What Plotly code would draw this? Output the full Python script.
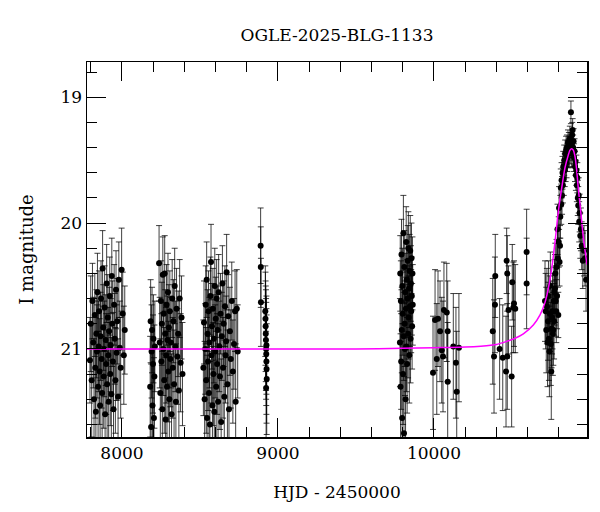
import plotly.graph_objects as go

# ---- data (HJD - 2450000, I magnitude, error) ----
s1_hjd = [7795, 7800, 7806, 7811, 7816, 7821, 7826, 7829, 7833, 7836, 7840, 7843, 7847, 7850, 7853, 7857, 7860, 7863, 7866, 7870,
          7873, 7876, 7880, 7883, 7886, 7889, 7892, 7896, 7899, 7902, 7905, 7909, 7912, 7915, 7918, 7922, 7925, 7928, 7932, 7935,
          7938, 7942, 7946, 7950, 7954, 7958, 7962, 7966, 7970, 7975, 7980, 7986, 7992, 7998, 8005, 8012, 8018]
s1_mag = [21.09, 20.80, 21.25, 20.62, 20.95, 21.40, 20.73, 21.15, 21.50, 20.88, 21.02, 20.55, 21.30, 20.98, 20.70, 21.18, 21.45, 20.90, 20.60, 21.08,
          21.35, 20.36, 20.83, 21.22, 21.00, 20.67, 21.52, 20.93, 21.12, 20.48, 21.28, 20.75, 21.05, 21.42, 20.86, 20.58, 21.20, 20.97, 21.36, 20.42,
          20.80, 21.10, 21.48, 20.65, 20.92, 21.25, 20.53, 21.03, 20.78, 21.38, 20.45, 20.99, 21.15, 20.37, 20.72, 21.05, 20.85]
s1_err = [0.34, 0.38, 0.45, 0.30, 0.36, 0.48, 0.33, 0.40, 0.50, 0.35, 0.37, 0.31, 0.44, 0.36, 0.32, 0.42, 0.47, 0.35, 0.30, 0.39,
          0.45, 0.30, 0.34, 0.41, 0.38, 0.33, 0.50, 0.36, 0.40, 0.31, 0.43, 0.34, 0.38, 0.47, 0.35, 0.31, 0.41, 0.37, 0.45, 0.30,
          0.34, 0.39, 0.48, 0.32, 0.36, 0.42, 0.31, 0.38, 0.34, 0.46, 0.30, 0.37, 0.40, 0.33, 0.33, 0.39, 0.35]

s2_hjd = [8181, 8184, 8187, 8190, 8193, 8196, 8199, 8202, 8205, 8208, 8211, 8238, 8242, 8246, 8250, 8253, 8256, 8259, 8262, 8265,
          8268, 8271, 8274, 8277, 8280, 8283, 8286, 8289, 8292, 8295, 8298, 8301, 8304, 8307, 8310, 8314, 8318, 8322, 8326, 8330,
          8334, 8338, 8342, 8346, 8350, 8355, 8360, 8365, 8370, 8376, 8382, 8388]
s2_mag = [21.30, 20.78, 21.62, 21.02, 20.85, 21.45, 21.12, 20.92, 21.55, 21.22, 20.98, 20.32, 20.95, 21.35, 20.62, 21.10, 20.80, 21.48, 20.41, 21.00,
          20.72, 21.25, 20.40, 20.88, 21.56, 21.05, 20.65, 21.30, 20.93, 20.55, 21.18, 20.83, 21.40, 20.70, 21.08, 20.95, 21.52, 20.60, 21.15, 20.78,
          21.28, 20.50, 20.98, 21.42, 20.68, 21.06, 20.88, 21.33, 20.60, 21.11, 20.75, 21.20]
s2_err = [0.40, 0.33, 0.50, 0.37, 0.34, 0.45, 0.39, 0.35, 0.48, 0.41, 0.36, 0.30, 0.36, 0.43, 0.32, 0.38, 0.33, 0.46, 0.30, 0.37,
          0.32, 0.42, 0.30, 0.35, 0.49, 0.38, 0.32, 0.44, 0.35, 0.31, 0.40, 0.34, 0.45, 0.32, 0.38, 0.36, 0.48, 0.31, 0.40, 0.33,
          0.43, 0.30, 0.36, 0.46, 0.32, 0.38, 0.34, 0.44, 0.31, 0.39, 0.33, 0.41]

s3_hjd = [8522, 8526, 8530, 8534, 8537, 8540, 8543, 8546, 8549, 8552, 8555, 8558, 8561, 8564, 8567, 8571, 8574, 8577, 8580, 8583,
          8586, 8589, 8592, 8595, 8598, 8601, 8604, 8607, 8610, 8613, 8616, 8620, 8624, 8628, 8632, 8636, 8640, 8644, 8648, 8652,
          8656, 8660, 8664, 8668, 8671, 8676, 8681, 8686, 8692, 8698, 8704, 8711, 8718, 8725, 8729, 8736, 8742]
s3_mag = [21.15, 20.79, 21.40, 21.00, 20.65, 21.25, 20.45, 21.55, 20.88, 21.10, 20.70, 21.35, 20.95, 21.60, 20.58, 20.31, 21.05, 20.82, 21.45, 20.68,
          21.20, 20.92, 21.50, 20.50, 21.02, 20.76, 21.30, 20.60, 21.12, 20.85, 21.42, 20.55, 20.98, 21.22, 20.72, 21.58, 20.90, 20.48, 21.15, 20.80,
          21.38, 20.66, 21.05, 20.94, 20.39, 21.28, 20.74, 21.48, 20.86, 21.08, 20.62, 21.18, 20.96, 20.70, 21.42, 20.68, 21.02]
s3_err = [0.38, 0.33, 0.46, 0.36, 0.31, 0.42, 0.30, 0.50, 0.35, 0.39, 0.32, 0.45, 0.36, 0.50, 0.31, 0.30, 0.38, 0.34, 0.47, 0.32,
          0.41, 0.35, 0.49, 0.30, 0.37, 0.33, 0.44, 0.31, 0.40, 0.35, 0.46, 0.30, 0.36, 0.42, 0.32, 0.50, 0.35, 0.30, 0.40, 0.34,
          0.45, 0.32, 0.38, 0.36, 0.30, 0.43, 0.33, 0.48, 0.35, 0.39, 0.31, 0.41, 0.36, 0.32, 0.46, 0.31, 0.37]

s4_hjd = [8889, 8890, 8891, 8919, 8920, 8921, 8922, 8923, 8924, 8925, 8926, 8927, 8928, 8924, 8926]
s4_mag = [20.18, 20.35, 20.63, 20.70, 20.76, 20.82, 20.88, 20.93, 21.00, 21.04, 21.10, 21.16, 21.24, 21.31, 20.97]
s4_err = [0.30, 0.32, 0.35, 0.36, 0.37, 0.36, 0.38, 0.40, 0.40, 0.41, 0.42, 0.43, 0.44, 0.45, 0.39]

s5_hjd = [9782, 9784, 9786, 9788, 9790, 9792, 9794, 9796, 9798, 9800, 9802, 9804, 9806, 9808, 9810, 9812, 9814, 9816, 9818, 9820,
          9822, 9824, 9826, 9828, 9830, 9832, 9834, 9836, 9838, 9840, 9842, 9844, 9846, 9848, 9850, 9852, 9854, 9856, 9858, 9860,
          9862, 9864]
s5_mag = [20.95, 20.40, 21.30, 20.62, 21.10, 20.25, 20.85, 21.55, 20.50, 20.72, 21.20, 20.08, 20.90, 21.67, 20.35, 20.80, 21.00, 20.55, 21.40, 20.68,
          20.15, 20.98, 20.45, 21.12, 20.60, 20.30, 20.88, 20.20, 20.75, 20.52, 21.05, 20.38, 20.66, 20.22, 20.92, 20.48, 20.70, 20.28, 20.58, 20.82,
          20.40, 20.65]
s5_err = [0.35, 0.30, 0.42, 0.32, 0.38, 0.28, 0.34, 0.45, 0.30, 0.33, 0.40, 0.30, 0.35, 0.45, 0.29, 0.34, 0.37, 0.31, 0.43, 0.32,
          0.28, 0.36, 0.30, 0.39, 0.31, 0.28, 0.35, 0.29, 0.33, 0.31, 0.38, 0.29, 0.32, 0.28, 0.35, 0.30, 0.33, 0.28, 0.31, 0.34,
          0.29, 0.32]

s6_hjd = [9994, 10007, 10018, 10026, 10039, 10050, 10058, 10064, 10082, 10088, 10088, 10124, 10141, 10146, 10160]
s6_mag = [21.19, 20.77, 21.08, 20.76, 20.86, 21.01, 21.06, 20.69, 20.71, 20.86, 21.26, 20.98, 21.11, 21.34, 20.99]
s6_err = [0.45, 0.40, 0.44, 0.38, 0.40, 0.42, 0.44, 0.38, 0.39, 0.40, 0.47, 0.42, 0.44, 0.48, 0.43]

s7_hjd = [10377, 10385, 10391, 10393, 10421, 10441, 10462, 10466, 10470, 10470, 10478, 10498, 10502, 10509, 10513, 10521, 10594, 10594]
s7_mag = [20.86, 21.06, 20.65, 20.42, 21.00, 21.07, 21.18, 20.30, 20.40, 21.06, 20.69, 21.22, 20.47, 20.67, 20.64, 20.68, 20.23, 20.48]
s7_err = [0.42, 0.45, 0.38, 0.33, 0.40, 0.42, 0.44, 0.26, 0.30, 0.42, 0.35, 0.40, 0.30, 0.36, 0.34, 0.35, 0.34, 0.36]

s8_hjd = [10712, 10716, 10720, 10724, 10728, 10731, 10734, 10737, 10740, 10743, 10746, 10749, 10752, 10754, 10757, 10760, 10762, 10765, 10768, 10770,
          10773, 10776, 10778, 10781, 10784, 10786, 10789, 10792, 10794, 10797, 10800, 10802, 10805, 10808, 10810, 10813, 10816, 10818, 10821, 10824,
          10826, 10829, 10832, 10835, 10838, 10841, 10844, 10847, 10850, 10853, 10856, 10859, 10862, 10865, 10868, 10871, 10874, 10878, 10880, 10883,
          10886, 10889, 10892, 10895, 10898, 10901, 10904, 10907, 10910, 10913, 10916, 10919, 10922, 10925, 10928, 10931, 10934, 10938, 10942, 10947,
          10954, 10962, 10968, 10975]
s8_mag = [20.62, 20.70, 20.85, 20.66, 20.95, 20.78, 20.58, 20.92, 21.02, 20.72, 20.50, 20.96, 21.18, 20.84, 20.75, 20.70, 20.88, 20.85, 20.62, 20.78,
          20.55, 20.52, 20.40, 20.62, 20.70, 20.35, 20.58, 20.05, 20.28, 20.73, 20.15, 19.88, 20.31, 20.18, 19.95, 19.72, 19.85, 19.66, 19.78, 19.60,
          19.70, 19.55, 19.65, 19.50, 19.58, 19.45, 19.55, 19.42, 19.52, 19.40, 19.48, 19.36, 19.45, 19.38, 19.44, 19.33, 19.42, 19.12, 19.38, 19.45,
          19.30, 19.26, 19.40, 19.35, 19.48, 19.43, 19.55, 19.51, 19.62, 19.58, 19.70, 19.64, 19.80, 19.86, 19.78, 19.99, 19.92, 20.10, 20.05, 20.18,
          20.30, 20.22, 20.28, 20.45]
s8_err = [0.32, 0.30, 0.34, 0.30, 0.35, 0.31, 0.28, 0.33, 0.36, 0.30, 0.27, 0.33, 0.38, 0.31, 0.29, 0.30, 0.33, 0.28, 0.27, 0.30,
          0.26, 0.27, 0.24, 0.28, 0.25, 0.22, 0.26, 0.20, 0.23, 0.18, 0.20, 0.17, 0.19, 0.16, 0.17, 0.15, 0.16, 0.14, 0.15, 0.13,
          0.14, 0.12, 0.13, 0.12, 0.13, 0.11, 0.12, 0.11, 0.12, 0.10, 0.11, 0.10, 0.11, 0.10, 0.11, 0.10, 0.11, 0.09, 0.10, 0.11,
          0.10, 0.09, 0.10, 0.10, 0.11, 0.10, 0.12, 0.11, 0.12, 0.12, 0.13, 0.12, 0.14, 0.15, 0.14, 0.16, 0.15, 0.18, 0.17, 0.19,
          0.22, 0.20, 0.22, 0.25]

# model curve (magenta)
model_hjd = [7776, 8500, 9000, 9500, 9800, 10000, 10100, 10200, 10300, 10400, 10466, 10520, 10573, 10637, 10680, 10712, 10733,
             10755, 10776, 10797, 10819, 10840, 10861, 10872, 10883, 10893, 10904, 10915, 10925, 10941, 10958, 10981]
model_mag = [21.00, 21.00, 21.00, 21.00, 20.995, 20.99, 20.988, 20.985, 20.978, 20.965, 20.94, 20.915, 20.88, 20.81, 20.73, 20.63, 20.52,
             20.36, 20.15, 19.91, 19.72, 19.56, 19.46, 19.42, 19.41, 19.42, 19.47, 19.58, 19.72, 19.91, 20.12, 20.33]

title_text = "OGLE-2025-BLG-1133"
x_title = "HJD - 2450000"
y_title = "I magnitude"

seasons = [(s1_hjd, s1_mag, s1_err), (s2_hjd, s2_mag, s2_err), (s3_hjd, s3_mag, s3_err),
           (s4_hjd, s4_mag, s4_err), (s5_hjd, s5_mag, s5_err), (s6_hjd, s6_mag, s6_err),
           (s7_hjd, s7_mag, s7_err), (s8_hjd, s8_mag, s8_err)]

hjd, mag, err = [], [], []
for h, m, e in seasons:
    n = min(len(h), len(m), len(e))
    hjd += h[:n]
    mag += m[:n]
    err += e[:n]

FONT = "DejaVu Serif"

fig = go.Figure()
fig.add_trace(go.Scatter(
    x=hjd, y=mag, mode="markers",
    marker=dict(color="black", size=6),
    error_y=dict(type="data", array=err, visible=True, color="rgba(0,0,0,0.75)", thickness=1, width=3),
    hoverinfo="skip",
))
fig.add_trace(go.Scatter(
    x=model_hjd, y=model_mag, mode="lines",
    line=dict(color="#ff00ff", width=1.5, shape="spline", smoothing=0.6),
    hoverinfo="skip",
))

axis_common = dict(
    showline=True, linecolor="black", linewidth=1.5, mirror="ticks",
    ticks="inside", tickcolor="black", tickwidth=1, ticklen=19,
    showgrid=False, zeroline=False, automargin=False,
    tickformat="d",
    tickfont=dict(family=FONT, size=17, color="black"),
)

fig.update_layout(
    width=600, height=512,
    margin=dict(l=87, r=13, t=62, b=75),
    paper_bgcolor="white", plot_bgcolor="white",
    showlegend=False,
    hovermode=False,
    font=dict(family=FONT, color="black", size=16),
    title=dict(text=title_text, x=0.5, xref="paper", xanchor="center",
               y=1 - 35 / 512, yref="container", yanchor="middle",
               font=dict(family=FONT, size=17, color="black")),
    xaxis=dict(range=[7776, 10981], tickmode="linear", tick0=0, dtick=1000,
               minor=dict(dtick=200, tick0=0, ticks="inside", ticklen=10, tickcolor="black", tickwidth=1),
               title=dict(text=x_title, font=dict(family=FONT, size=17, color="black"), standoff=24),
               **axis_common),
    yaxis=dict(range=[21.70, 18.72], tickmode="linear", tick0=0, dtick=1,
               minor=dict(dtick=0.2, tick0=0, ticks="inside", ticklen=10, tickcolor="black", tickwidth=1),
               title=dict(text=y_title, font=dict(family=FONT, size=18, color="black"), standoff=22),
               **axis_common),
)

fig.write_html("out.html", config={"displayModeBar": False, "staticPlot": True},
               post_script="document.body.style.margin='0';document.body.style.padding='0';")
